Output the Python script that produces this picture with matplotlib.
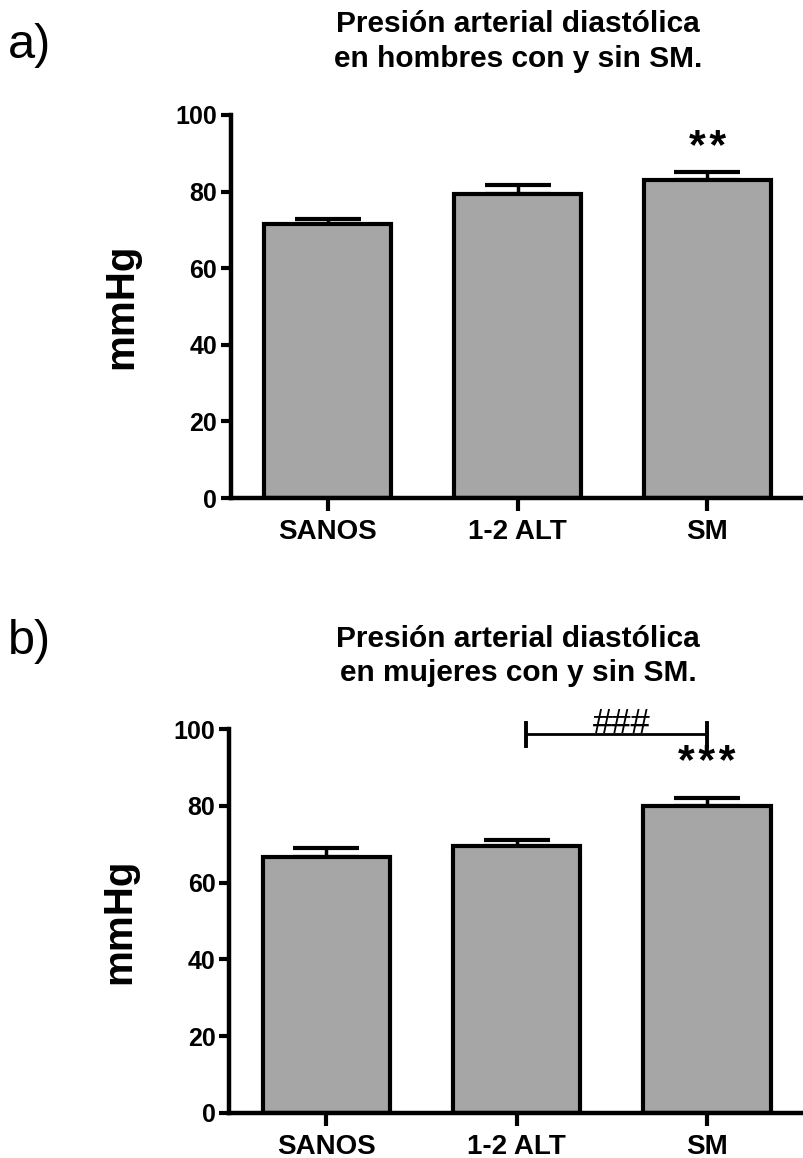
import matplotlib
matplotlib.use("Agg")
import matplotlib.pyplot as plt
import numpy as np

plt.rcParams['font.family'] = ['Liberation Sans', 'DejaVu Sans']

groups = ["SANOS", "1-2 ALT", "SM"]
men_mean = [71.5, 79.3, 82.9]
men_err = [1.4, 2.3, 2.1]
women_mean = [66.8, 69.6, 80.1]
women_err = [2.2, 1.5, 2.1]

bar_color = "#a6a6a6"
W, H = 804, 1158
hair = "\u200a"


def draw_panel(ax, means, errs):
    x = np.arange(len(groups))
    ax.bar(x, means, width=0.67, color=bar_color, edgecolor="black",
           linewidth=3, zorder=2)
    ax.errorbar(x, means, yerr=[np.zeros(len(errs)), errs], fmt="none",
                ecolor="black", elinewidth=2.5, capsize=23.5, capthick=3,
                zorder=1)
    ax.set_xlim(-0.51, 2.51)
    ax.set_ylim(0, 100)
    ax.set_yticks([0, 20, 40, 60, 80, 100])
    ax.set_xticks(x)
    ax.set_xticklabels(groups, fontsize=20, fontweight="bold")
    for lab in ax.get_yticklabels():
        lab.set_fontsize(18)
        lab.set_fontweight("bold")
    for s in ["top", "right"]:
        ax.spines[s].set_visible(False)
    for s in ["left", "bottom"]:
        ax.spines[s].set_linewidth(3.2)
    ax.tick_params(axis="y", length=7, width=3, pad=3)
    ax.tick_params(axis="x", length=9, width=3, pad=6)
    ax.set_ylabel("mmHg", fontsize=29, fontweight="bold")
    ax.yaxis.set_label_coords(-0.158, 0.5)


fig = plt.figure(figsize=(W / 100, H / 100), dpi=100)

ax1 = fig.add_axes([231 / W, (H - 498) / H, (W - 231) / W, 383 / H])
draw_panel(ax1, men_mean, men_err)
ax1.text(2, 88.4, hair.join("**"), ha="center", va="baseline", fontsize=31,
         fontweight="semibold")

ax2 = fig.add_axes([229.3 / W, (H - 1112.7) / H, (W - 229.3) / W, 383.4 / H])
draw_panel(ax2, women_mean, women_err)
ax2.plot([1.05, 2.0], [98.8, 98.8], color="black", lw=2, clip_on=False)
ax2.plot([1.05, 1.05], [95.6, 101.6], color="black", lw=2.8, clip_on=False)
ax2.plot([2.0, 2.0], [95.6, 101.6], color="black", lw=2.8, clip_on=False)
ax2.text(1.55, 101.6, "###", ha="center", va="center", fontsize=25)
ax2.text(2, 88.4, hair.join("***"), ha="center", va="baseline", fontsize=31,
         fontweight="semibold")

fig.text(518 / W, 1 - 41.5 / H, "Presión arterial diastólica\nen hombres con y sin SM.",
         ha="center", va="center", fontsize=21.5, fontweight="bold", linespacing=1.28)
fig.text(518 / W, 1 - 656 / H, "Presión arterial diastólica\nen mujeres con y sin SM.",
         ha="center", va="center", fontsize=21.5, fontweight="bold", linespacing=1.28)
fig.text(8 / W, 1 - 46 / H, "a)", ha="left", va="center", fontsize=35)
fig.text(8 / W, 1 - 641 / H, "b)", ha="left", va="center", fontsize=35)

fig.savefig("out.png", dpi=100)
